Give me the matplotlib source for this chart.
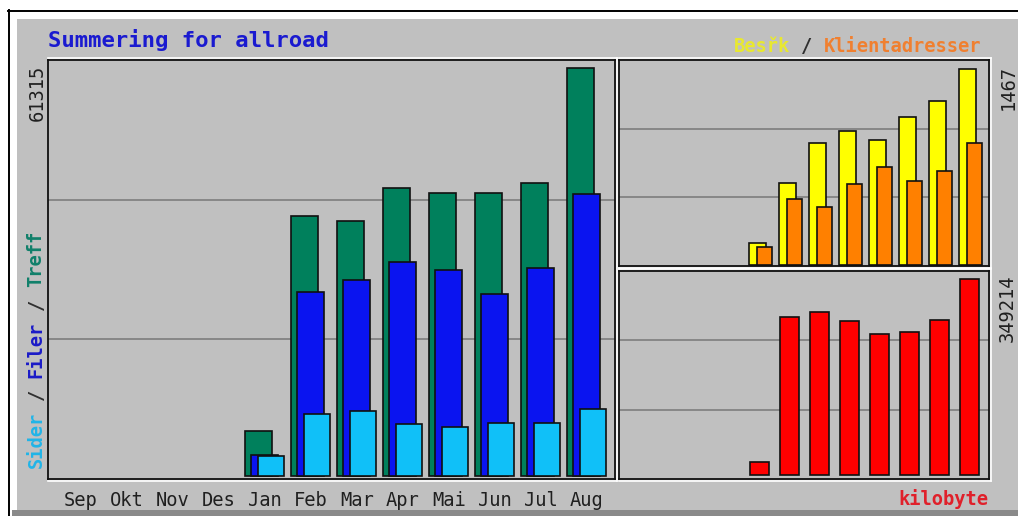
import matplotlib

matplotlib.use("Agg")
import matplotlib.pyplot as plt
from matplotlib.lines import Line2D
from matplotlib.patches import Rectangle

# yearly summary, Sep..Aug (no data before Jan)
months = ["Sep", "Okt", "Nov", "Des", "Jan", "Feb", "Mar", "Apr", "Mai", "Jun", "Jul", "Aug"]
treff = [0, 0, 0, 0, 6763, 39073, 38321, 43281, 42529, 42529, 44032, 61315]
filer = [0, 0, 0, 0, 3156, 27652, 29455, 32160, 30958, 27351, 31258, 42379]
sider = [0, 0, 0, 0, 3006, 9317, 9768, 7815, 7364, 7965, 7965, 10069]
besok = [0, 0, 0, 0, 165, 614, 913, 1003, 936, 1108, 1228, 1467]
klienter = [0, 0, 0, 0, 135, 494, 434, 606, 734, 629, 704, 913]
kbyte = [0, 0, 0, 0, 23162, 281509, 290417, 274382, 251220, 254783, 276164, 349214]

W, H = 1018, 516
GRAY = "#c0c0c0"
MONO = "DejaVu Sans Mono"
FS = 13.5
CW = 0.602 * FS * 100 / 72  # char advance in px


def fx(x):
    return x / W


def fy(y):
    return 1 - y / H


def box(l, t, r, b):
    return [fx(l), fy(b), (r - l) / W, (b - t) / H]


def bars(ax, values, offset, width, color):
    xs = [i + offset for i, v in enumerate(values) if v > 0]
    hs = [v for v in values if v > 0]
    ax.bar(xs, hs, width=width, color=color, edgecolor="#101010", linewidth=1.2, zorder=3)


def panel(rect):
    ax = fig.add_axes(rect)
    ax.set_facecolor(GRAY)
    for s in ax.spines.values():
        s.set_color("#101010")
        s.set_linewidth(1.3)
    ax.set_xticks([])
    ax.set_yticks([])
    for f in (1 / 3, 2 / 3):
        ax.plot([0, 1], [f, f], transform=ax.transAxes, color="#828282", lw=1.3, zorder=1)
    return ax


def bevel(l, t, r, b):
    kw = dict(transform=fig.transFigure, color="white", lw=1.2, zorder=-5)
    fig.add_artist(Line2D([fx(l), fx(r + 2)], [fy(t - 2)] * 2, **kw))
    fig.add_artist(Line2D([fx(r + 2)] * 2, [fy(t - 2), fy(b + 2)], **kw))
    fig.add_artist(Line2D([fx(l), fx(r + 2)], [fy(b + 2)] * 2, **kw))


fig = plt.figure(figsize=(W / 100, H / 100), dpi=100)
fig.patch.set_facecolor("white")

# outer frame
fig.add_artist(Rectangle((fx(17), fy(510)), (W - 17) / W, (510 - 19) / H, zorder=-10,
                         transform=fig.transFigure, facecolor=GRAY, edgecolor="none"))
fig.add_artist(Rectangle((fx(12), 0), (W - 12) / W, 6 / H, zorder=-10,
                         transform=fig.transFigure, facecolor="#8a8a8a", edgecolor="none"))
fig.add_artist(Line2D([fx(8), 1], [fy(10.5)] * 2, transform=fig.transFigure, color="black", lw=1.4))
fig.add_artist(Line2D([fx(8.5)] * 2, [fy(10), 0], transform=fig.transFigure, color="black", lw=1.4))

bevel(48, 60, 615, 479)
bevel(619, 60, 989, 266)
bevel(619, 271, 989, 479)

# main panel: Treff / Filer / Sider
ax = panel(box(48, 60, 615, 479))
m = max(treff)
ax.set_xlim(-0.717, 11.61)
ax.set_ylim(-m * 3 / 408, m * 416 / 408)
bars(ax, treff, -0.141, 0.575, "#00805c")
bars(ax, filer, -0.011, 0.575, "#0a14f0")
bars(ax, sider, 0.141, 0.565, "#10c0f8")
ax.set_xticks(range(len(months)))
ax.set_xticklabels(months, family=MONO, fontsize=FS, color="#202020")
ax.tick_params(axis="x", length=0, pad=8.4)

# upper right: Besøk / Klientadresser
ax2 = panel(box(619, 60, 989, 266))
m2 = max(besok)
ax2.set_xlim(-0.683, 11.65)
ax2.set_ylim(-m2 * 1 / 196, m2 * 205 / 196)
bars(ax2, besok, -0.067, 0.567, "#ffff00")
bars(ax2, klienter, 0.167, 0.5, "#ff8000")

# lower right: kilobyte
ax3 = panel(box(619, 271, 989, 479))
m3 = max(kbyte)
ax3.set_xlim(-0.683, 11.65)
ax3.set_ylim(-m3 * 4 / 196, m3 * 204 / 196)
bars(ax3, kbyte, 0.0, 0.633, "#ff0000")

# texts
fig.text(fx(48), fy(47), "Summering for allroad", family=MONO, fontsize=16,
         fontweight="bold", color="#1a1ad0", ha="left", va="baseline")

fig.text(fx(37), fy(65), f"{max(treff)}", family=MONO, fontsize=FS, color="#202020",
         rotation=90, ha="center", va="top")
fig.text(fx(1008), fy(65), f"{max(besok)}", family=MONO, fontsize=FS, color="#202020",
         rotation=90, ha="center", va="top")
fig.text(fx(1007), fy(275), f"{max(kbyte)}", family=MONO, fontsize=FS, color="#202020",
         rotation=90, ha="center", va="top")

fig.text(fx(988), fy(505), "kilobyte", family=MONO, fontsize=FS, fontweight="bold",
         color="#e0202a", ha="right", va="baseline")

# left legend, reads bottom to top
left_parts = [("Sider", 0, "#20b4e8"), ("/", 6, "#303030"), ("Filer", 8, "#1a1ac8"),
              ("/", 14, "#303030"), ("Treff", 16, "#10806a")]
for txt, pos, col in left_parts:
    fig.text(fx(36), fy(468 - pos * CW), txt, family=MONO, fontsize=FS, fontweight="bold",
             color=col, rotation=90, ha="center", va="bottom")

# right header
head = "Besřk / Klientadresser"
x0 = 982 - len(head) * CW
right_parts = [("Besřk", 0, "#e8e830"), ("/", 6, "#303030"), ("Klientadresser", 8, "#f08030")]
for txt, pos, col in right_parts:
    fig.text(fx(x0 + pos * CW), fy(52), txt, family=MONO, fontsize=FS, fontweight="bold",
             color=col, ha="left", va="baseline")

fig.savefig("out.png", dpi=100, facecolor=fig.get_facecolor())
